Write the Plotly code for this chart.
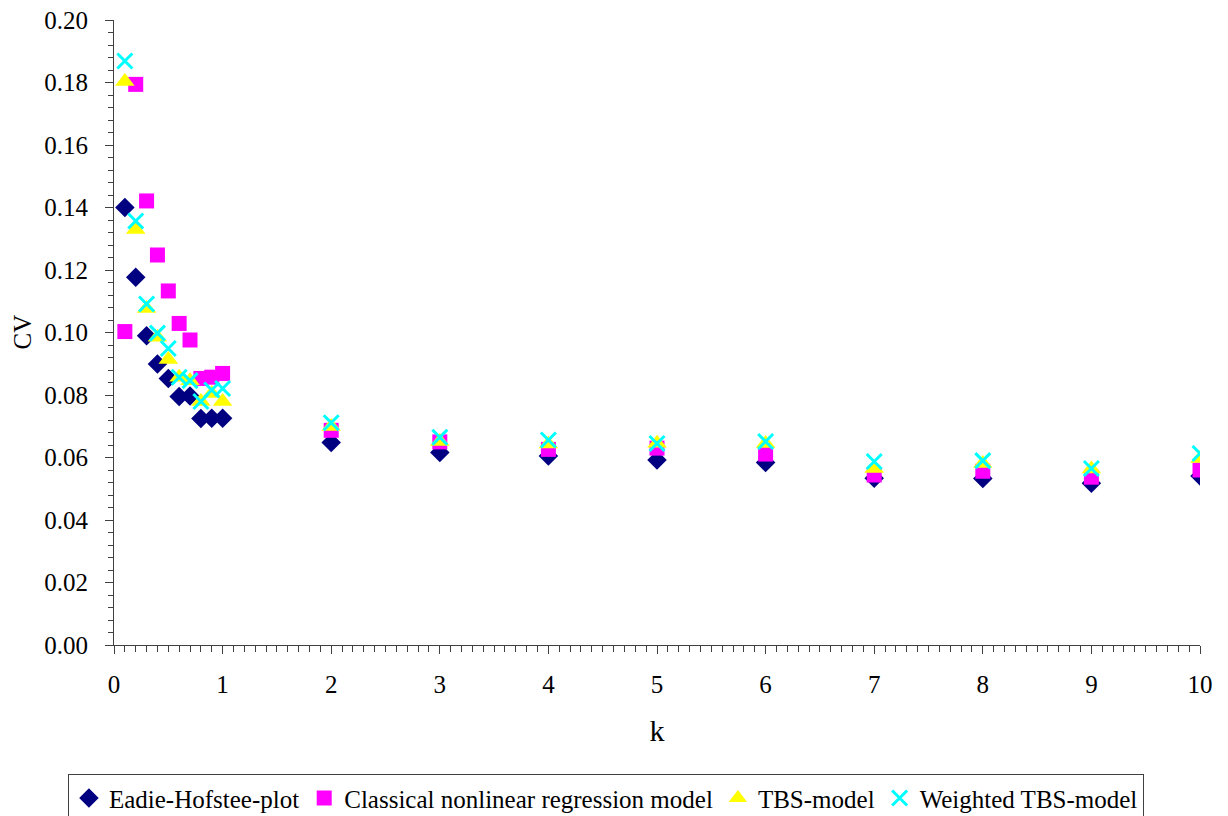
import plotly.graph_objects as go

k = [0.1, 0.2, 0.3, 0.4, 0.5, 0.6, 0.7, 0.8, 0.9, 1.0, 2, 3, 4, 5, 6, 7, 8, 9, 10]

eadie = [0.1400, 0.1177, 0.0990, 0.0899, 0.0853, 0.0795, 0.0797, 0.0725, 0.0726, 0.0726,
         0.0648, 0.0616, 0.0605, 0.0592, 0.0584, 0.0534, 0.0533, 0.0518, 0.0541]
classical = [0.1003, 0.1794, 0.1421, 0.1248, 0.1133, 0.1029, 0.0976, 0.0853, 0.0857, 0.0869,
             0.0687, 0.0650, 0.0626, 0.0630, 0.0611, 0.0544, 0.0556, 0.0537, 0.0560]
tbs = [0.1803, 0.1330, 0.1077, 0.0985, 0.0914, 0.0857, 0.0846, 0.0779, 0.0805, 0.0779,
       0.0699, 0.0651, 0.0643, 0.0646, 0.0645, 0.0565, 0.0581, 0.0563, 0.0597]
weighted = [0.1869, 0.1357, 0.1091, 0.0998, 0.0949, 0.0857, 0.0846, 0.0779, 0.0816, 0.0821,
            0.0711, 0.0665, 0.0656, 0.0645, 0.0651, 0.0587, 0.0590, 0.0565, 0.0613]

y_ticks = [0.00, 0.02, 0.04, 0.06, 0.08, 0.10, 0.12, 0.14, 0.16, 0.18, 0.20]

names = ["Eadie-Hofstee-plot", "Classical nonlinear regression model", "TBS-model", "Weighted TBS-model"]

fig = go.Figure()
fig.add_trace(go.Scatter(x=k, y=eadie, mode="markers", name=names[0],
                         marker=dict(symbol="diamond", size=15, color="#000080")))
fig.add_trace(go.Scatter(x=k, y=classical, mode="markers", name=names[1],
                         marker=dict(symbol="square", size=15, color="#FF00FF")))
fig.add_trace(go.Scatter(x=k, y=tbs, mode="markers", name=names[2],
                         marker=dict(symbol="triangle-up", size=17, color="#FFFF00")))
fig.add_trace(go.Scatter(x=k, y=weighted, mode="markers", name=names[3],
                         marker=dict(symbol="x-thin-open", size=15, color="#00FFFF",
                                     line=dict(width=3, color="#00FFFF"))))

font = "Liberation Serif, Times New Roman, serif"
fig.update_layout(
    width=1228, height=816,
    margin=dict(l=106, r=36, t=12, b=179),
    paper_bgcolor="white", plot_bgcolor="white",
    font=dict(family=font, size=25, color="black"),
    showlegend=True,
    legend=dict(orientation="h", x=0.453, xanchor="center",
                yref="container", y=0.061, yanchor="top",
                bordercolor="#404040", borderwidth=1, font=dict(size=25),
                itemwidth=30, tracegroupgap=0),
    annotations=[dict(text="CV", xref="paper", yref="paper", x=-0.0847, y=0.5,
                      xanchor="center", yanchor="middle", textangle=-90, borderpad=0,
                      showarrow=False, font=dict(size=25))],
)
fig.update_xaxes(
    range=[0, 10], dtick=1, tick0=0, showgrid=False, zeroline=False, automargin=False,
    showline=True, linecolor="#404040", linewidth=1,
    ticks="outside", ticklen=8, tickcolor="#404040", ticklabelstandoff=9,
    ticklabeloverflow="allow",
    minor=dict(dtick=0.1, ticks="outside", ticklen=6, tickcolor="#404040", showgrid=False),
    title=dict(text="k", standoff=22), tickfont=dict(size=25),
)
fig.update_yaxes(
    range=[0, 0.2], tickmode="array", tickvals=y_ticks, tickformat=".2f",
    showgrid=False, zeroline=False, automargin=False,
    showline=True, linecolor="#404040", linewidth=1,
    ticks="outside", ticklen=8, tickcolor="#404040", ticklabelstandoff=12,
    ticklabeloverflow="allow",
    minor=dict(dtick=0.004, tick0=0, ticks="outside", ticklen=5, tickcolor="#404040", showgrid=False),
    tickfont=dict(size=25),
)
fig.write_html("out.html")
